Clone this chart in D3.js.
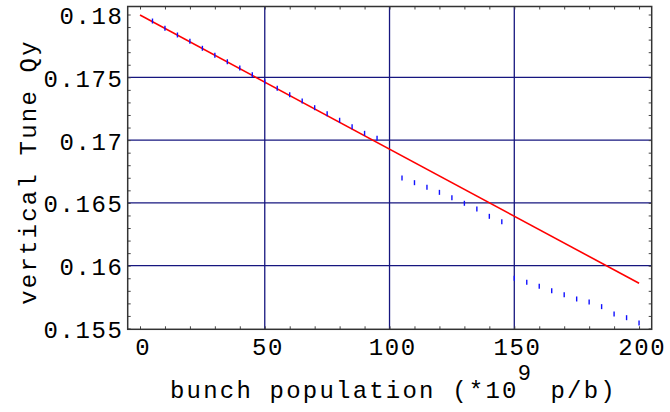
<!DOCTYPE html>
<html>
<head>
<meta charset="utf-8">
<script src="https://cdn.jsdelivr.net/npm/d3@7"></script>
<style>
  html, body { margin: 0; padding: 0; background: #fff; }
  svg { display: block; }
  text { font-family: "Liberation Mono", "DejaVu Sans Mono", monospace; fill: #000; }
</style>
</head>
<body>
<svg id="chart" width="670" height="412"></svg>
<script>
// Measured vertical tune vs. bunch population (10^9 p/b)
const population = [5, 10, 15, 20, 25, 30, 35, 40, 45, 50, 55, 60, 65, 70, 75, 80, 85, 90, 95,
  105, 110, 115, 120, 125, 130, 135, 140, 145,
  150, 155, 160, 165, 170, 175, 180, 185, 190, 195, 200];
const tuneQy = [0.17948, 0.17890, 0.17837, 0.17787, 0.17731, 0.17675, 0.17624, 0.17574, 0.17521,
  0.17465, 0.17412, 0.17361, 0.17311, 0.17258, 0.17210, 0.17158, 0.17107, 0.17054, 0.17014,
  0.16698, 0.16661, 0.16624, 0.16584, 0.16541, 0.16497, 0.16451, 0.16393, 0.16350,
  0.15900, 0.15868, 0.15836, 0.15801, 0.15769, 0.15735, 0.15711, 0.15674, 0.15615, 0.15586, 0.15544];

// Linear fit drawn across the full range
const fitPopulation = [0, 200];
const fitQy = [0.17996, 0.15860];

// Axis ticks and grid
const xTickValues = [0, 50, 100, 150, 200];
const xTickLabels = ["0", "50", "100", "150", "200"];
const yTickValues = [0.155, 0.16, 0.165, 0.17, 0.175, 0.18];
const yTickLabels = ["0.155", "0.16", "0.165", "0.17", "0.175", "0.18"];
const xGrid = [50, 100, 150];
const yGrid = [0.16, 0.165, 0.17, 0.175];

const svg = d3.select("#chart");
const plotLeft = 127.7, plotRight = 651.7, plotTop = 6.5, plotBottom = 329.3;

const x = d3.scaleLinear().domain([-4.93, 205.07]).range([plotLeft, plotRight]);
const y = d3.scaleLinear().domain([0.154936, 0.180637]).range([plotBottom, plotTop]);

const navy = "#16167f";
const fontSize = 24, spacing = 1.6;

// grid lines
svg.append("g").selectAll("line").data(xGrid).join("line")
  .attr("x1", d => x(d)).attr("x2", d => x(d))
  .attr("y1", plotTop).attr("y2", plotBottom)
  .attr("stroke", navy).attr("stroke-width", 1.3);
svg.append("g").selectAll("line").data(yGrid).join("line")
  .attr("x1", plotLeft).attr("x2", plotRight)
  .attr("y1", d => y(d)).attr("y2", d => y(d))
  .attr("stroke", navy).attr("stroke-width", 1.3);

// minor ticks on all four sides, pointing inward
const tickLen = 3;
const xMinor = d3.range(0, 201, 10);
const yMinor = d3.range(155, 181, 1).map(v => v / 1000);
const axB = d3.axisBottom(x).tickValues(xMinor).tickSize(-tickLen).tickFormat("");
const axT = d3.axisTop(x).tickValues(xMinor).tickSize(-tickLen).tickFormat("");
const axL = d3.axisLeft(y).tickValues(yMinor).tickSize(-tickLen).tickFormat("");
const axR = d3.axisRight(y).tickValues(yMinor).tickSize(-tickLen).tickFormat("");
[[axB, `translate(0,${plotBottom})`], [axT, `translate(0,${plotTop})`],
 [axL, `translate(${plotLeft},0)`], [axR, `translate(${plotRight},0)`]].forEach(([ax, tr]) => {
  const g = svg.append("g").attr("transform", tr).call(ax);
  g.select(".domain").remove();
  g.selectAll(".tick line").attr("stroke", "#444").attr("stroke-width", 1);
});

// frame
svg.append("rect")
  .attr("x", plotLeft).attr("y", plotTop)
  .attr("width", plotRight - plotLeft).attr("height", plotBottom - plotTop)
  .attr("fill", "none").attr("stroke", "#333").attr("stroke-width", 1.5);

// fit line
const line = d3.line().x(d => x(d[0])).y(d => y(d[1]));
svg.append("path")
  .datum(fitPopulation.map((p, i) => [p, fitQy[i]]))
  .attr("d", line)
  .attr("fill", "none").attr("stroke", "#ff0000").attr("stroke-width", 1.6);

// measured points as short vertical bars
svg.append("g").selectAll("line")
  .data(population.map((p, i) => [p, tuneQy[i]]))
  .join("line")
  .attr("x1", d => x(d[0])).attr("x2", d => x(d[0]))
  .attr("y1", d => y(d[1]) - 2.5).attr("y2", d => y(d[1]) + 2.5)
  .attr("stroke", "#1010ff").attr("stroke-width", 1.4);

// tick labels
svg.append("g").selectAll("text").data(xTickValues).join("text")
  .attr("x", d => x(d) + 2.5 + spacing / 2)
  .attr("y", 355)
  .attr("text-anchor", "middle")
  .attr("font-size", fontSize)
  .attr("letter-spacing", spacing)
  .text((d, i) => xTickLabels[i]);

svg.append("g").selectAll("text").data(yTickValues).join("text")
  .attr("x", 122 + spacing)
  .attr("y", d => y(d) + 9.6)
  .attr("text-anchor", "end")
  .attr("font-size", fontSize)
  .attr("letter-spacing", spacing)
  .text((d, i) => yTickLabels[i]);

// x-axis title with the raised exponent
const xTitle = svg.append("text")
  .attr("x", 170).attr("y", 398)
  .attr("font-size", fontSize)
  .attr("letter-spacing", spacing + 0.6)
  .attr("xml:space", "preserve");
xTitle.append("tspan").text("bunch population (*10");
xTitle.append("tspan").attr("dx", -1).attr("dy", -18).attr("font-size", 22).attr("letter-spacing", 0).text("9");
xTitle.append("tspan").attr("dx", 3).attr("dy", 18).text(" p/b)");

svg.append("text")
  .attr("transform", "translate(36,172) rotate(-90)")
  .attr("text-anchor", "middle")
  .attr("font-size", fontSize)
  .attr("letter-spacing", spacing + 0.6)
  .text("vertical Tune Qy");
</script>
</body>
</html>
